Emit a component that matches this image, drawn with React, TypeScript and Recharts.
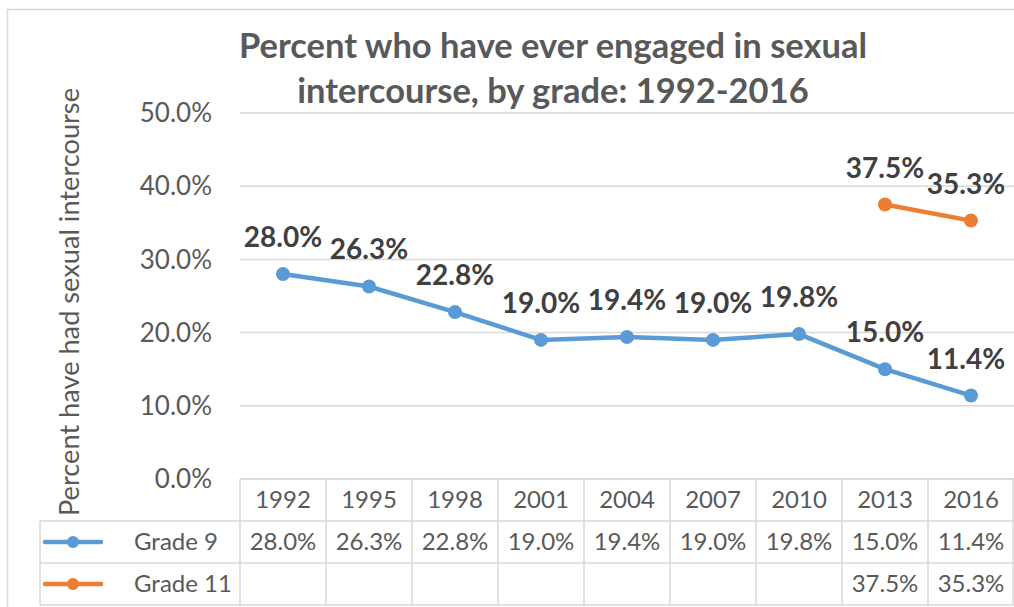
import React from 'react';
import { LineChart, Line, XAxis, YAxis, CartesianGrid, LabelList } from 'recharts';

const years = ['1992', '1995', '1998', '2001', '2004', '2007', '2010', '2013', '2016'];
const grade9 = [0.28, 0.263, 0.228, 0.19, 0.194, 0.19, 0.198, 0.15, 0.114];
const grade11 = [null, null, null, null, null, null, null, 0.375, 0.353];
const yTicks = [0, 0.1, 0.2, 0.3, 0.4, 0.5];
const seriesNames = ['Grade 9', 'Grade 11'];
const seriesColors = ['#5b9bd5', '#ed7d31'];
const titleLines = ['Percent who have ever engaged in sexual', 'intercourse, by grade: 1992-2016'];
const yAxisTitle = 'Percent have had sexual intercourse';

const data = years.map((year, i) => ({ year, g9: grade9[i], g11: grade11[i] }));
const seriesValues = [grade9, grade11];

const W = 1014;
const H = 607;
const PLOT_LEFT = 240;
const PLOT_RIGHT = 1014;
const PLOT_TOP = 113;
const PLOT_BOTTOM = 479;
const COL_W = (PLOT_RIGHT - PLOT_LEFT) / years.length;
const ROW_H = 42;
const TABLE_LEFT = 40;
const FONT = 'Lato, "Open Sans", sans-serif';
const GRID = '#d9d9d9';
const TEXT = '#595959';

const pct = (v: number | null) => (v == null ? '' : (v * 100).toFixed(1) + '%');

// data labels sit above each point; Excel nudges the last ones inside the frame
const renderLabel = (props: any) => {
  const { x, y, value } = props;
  if (value == null) return null;
  const cx = Math.min(x, 966);
  return (
    <text x={cx} y={y - 27} textAnchor="middle" fontFamily={FONT} fontWeight={700} fontSize={28} fill="#404040">
      {pct(value)}
    </text>
  );
};

function DataTable() {
  const rows = [PLOT_BOTTOM, PLOT_BOTTOM + ROW_H, PLOT_BOTTOM + 2 * ROW_H, PLOT_BOTTOM + 3 * ROW_H];
  return (
    <svg width={W} height={H} style={{ position: 'absolute', left: 0, top: 0, pointerEvents: 'none' }}>
      {/* chart border */}
      <rect x={7.5} y={9.5} width={1030} height={640} fill="none" stroke={GRID} strokeWidth={1.5} />

      {/* title */}
      {titleLines.map((t, i) => (
        <text key={t} x={553} y={58 + i * 45} textAnchor="middle" fontFamily={FONT} fontWeight={700} fontSize={34.5} fill={TEXT}>
          {t}
        </text>
      ))}

      {/* y axis title */}
      <text x={79} y={302} transform="rotate(-90 79 302)" textAnchor="middle" fontFamily={FONT} fontSize={27.2} fill={TEXT}>
        {yAxisTitle}
      </text>

      {/* table lines */}
      <line x1={PLOT_LEFT} x2={PLOT_RIGHT} y1={rows[0]} y2={rows[0]} stroke={GRID} strokeWidth={1.5} />
      {rows.slice(1).map((r) => (
        <line key={r} x1={TABLE_LEFT} x2={PLOT_RIGHT} y1={r} y2={r} stroke={GRID} strokeWidth={1.5} />
      ))}
      <line x1={TABLE_LEFT} x2={TABLE_LEFT} y1={rows[1]} y2={rows[3]} stroke={GRID} strokeWidth={1.5} />
      {years.map((y, i) => (
        <line key={y} x1={PLOT_LEFT + i * COL_W} x2={PLOT_LEFT + i * COL_W} y1={rows[0]} y2={rows[3]} stroke={GRID} strokeWidth={1.5} />
      ))}
      <line x1={PLOT_RIGHT - 1} x2={PLOT_RIGHT - 1} y1={rows[0]} y2={rows[3]} stroke={GRID} strokeWidth={1.5} />

      {/* header */}
      {years.map((y, i) => (
        <text key={y} x={PLOT_LEFT + (i + 0.5) * COL_W} y={rows[0] + ROW_H / 2} dy="0.35em" textAnchor="middle" fontFamily={FONT} fontSize={24} fill={TEXT}>
          {y}
        </text>
      ))}

      {/* series rows */}
      {seriesNames.map((name, s) => {
        const cy = rows[s + 1] + ROW_H / 2;
        return (
          <g key={name}>
            <line x1={45} x2={101} y1={cy} y2={cy} stroke={seriesColors[s]} strokeWidth={4.5} strokeLinecap="round" />
            <circle cx={73} cy={cy} r={6} fill={seriesColors[s]} />
            <text x={134} y={cy} dy="0.35em" fontFamily={FONT} fontSize={24} fill={TEXT}>
              {name}
            </text>
            {seriesValues[s].map((v, i) => (
              <text key={i} x={PLOT_LEFT + (i + 0.5) * COL_W} y={cy} dy="0.35em" textAnchor="middle" fontFamily={FONT} fontSize={24} fill={TEXT}>
                {pct(v)}
              </text>
            ))}
          </g>
        );
      })}
    </svg>
  );
}

export default function App() {
  return (
    <div style={{ position: 'relative', width: W, height: H, background: '#fff', overflow: 'hidden' }}>
      <style>{'body{margin:0}'}</style>
      <div style={{ position: 'absolute', left: 0, top: 0 }}>
        <LineChart
          width={W}
          height={H}
          data={data}
          margin={{ top: PLOT_TOP, right: W - PLOT_RIGHT, left: 0, bottom: H - PLOT_BOTTOM }}
        >
          <CartesianGrid vertical={false} stroke={GRID} strokeWidth={1.5} />
          <XAxis dataKey="year" hide padding={{ left: COL_W / 2, right: COL_W / 2 }} />
          <YAxis
            width={PLOT_LEFT}
            domain={[0, 0.5]}
            ticks={yTicks}
            tickFormatter={(v: number) => pct(v)}
            axisLine={false}
            tickLine={false}
            tickSize={0}
            tickMargin={28}
            tick={{ fill: TEXT, fontSize: 26, fontFamily: FONT }}
          />
          <Line
            dataKey="g9"
            name={seriesNames[0]}
            stroke={seriesColors[0]}
            strokeWidth={4.5}
            dot={{ r: 7, fill: seriesColors[0], stroke: 'none' }}
            activeDot={false}
            isAnimationActive={false}
          >
            <LabelList dataKey="g9" content={renderLabel} />
          </Line>
          <Line
            dataKey="g11"
            name={seriesNames[1]}
            stroke={seriesColors[1]}
            strokeWidth={4.5}
            dot={{ r: 7, fill: seriesColors[1], stroke: 'none' }}
            activeDot={false}
            isAnimationActive={false}
          >
            <LabelList dataKey="g11" content={renderLabel} />
          </Line>
        </LineChart>
      </div>
      <DataTable />
    </div>
  );
}
